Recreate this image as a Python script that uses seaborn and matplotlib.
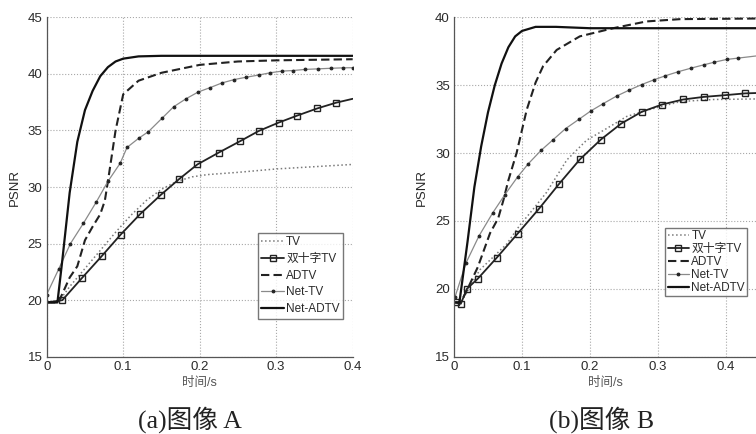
import numpy as np
import pandas as pd
import matplotlib
matplotlib.use("Agg")
import matplotlib.pyplot as plt
import seaborn as sns

# ---- data ----
# (a) image A
a_tv_x = [0, 0.015, 0.03, 0.05, 0.07, 0.09, 0.11, 0.13, 0.15, 0.17, 0.19, 0.21, 0.25, 0.3, 0.35, 0.4]
a_tv_y = [19.8, 19.8, 21.2, 22.8, 24.4, 26.0, 27.5, 28.8, 29.8, 30.5, 30.9, 31.1, 31.3, 31.6, 31.8, 32.0]

a_cross_x = [0, 0.0204, 0.0466, 0.072, 0.0967, 0.122, 0.149, 0.173, 0.197, 0.225, 0.2527, 0.277,
             0.3033, 0.3268, 0.3537, 0.378, 0.4]
a_cross_y = [19.8, 20.0, 22.0, 23.9, 25.8, 27.6, 29.3, 30.7, 32.0, 33.05, 34.05, 34.95,
             35.7, 36.3, 36.95, 37.45, 37.8]

a_adtv_x = [0, 0.015, 0.02, 0.03, 0.04, 0.05, 0.06, 0.07, 0.076, 0.08, 0.09, 0.1, 0.12, 0.15, 0.2, 0.25, 0.3, 0.4]
a_adtv_y = [19.8, 19.8, 20.5, 22.0, 23.0, 25.3, 26.5, 27.6, 28.8, 30.5, 35.0, 38.2, 39.4, 40.1, 40.8, 41.1, 41.2, 41.3]

a_nettv_x = [0, 0.016, 0.031, 0.048, 0.065, 0.08, 0.096, 0.105, 0.12, 0.133, 0.151, 0.166, 0.182, 0.198,
             0.214, 0.229, 0.245, 0.26, 0.277, 0.292, 0.308, 0.322, 0.338, 0.355, 0.372, 0.388, 0.4]
a_nettv_y = [20.5, 22.8, 25.0, 26.8, 28.7, 30.5, 32.1, 33.5, 34.3, 34.9, 36.1, 37.1, 37.8, 38.4,
             38.8, 39.2, 39.5, 39.7, 39.9, 40.1, 40.25, 40.3, 40.4, 40.45, 40.5, 40.54, 40.55]

a_netadtv_x = [0, 0.014, 0.02, 0.03, 0.04, 0.05, 0.06, 0.07, 0.08, 0.09, 0.1, 0.12, 0.15, 0.2, 0.3, 0.4]
a_netadtv_y = [19.8, 19.8, 23.3, 29.5, 34.0, 36.8, 38.5, 39.8, 40.6, 41.1, 41.35, 41.55, 41.6, 41.6, 41.6, 41.6]

# (b) image B
b_tv_x = [0, 0.01, 0.038, 0.0775, 0.097, 0.112, 0.136, 0.166, 0.195, 0.224, 0.254, 0.283, 0.333, 0.382, 0.46]
b_tv_y = [19.0, 19.0, 21.4, 23.3, 24.7, 25.6, 27.1, 29.5, 30.95, 31.8, 32.7, 33.15, 33.8, 33.95, 34.0]

b_cross_x = [0.003, 0.01, 0.019, 0.035, 0.063, 0.0936, 0.125, 0.155, 0.185, 0.216, 0.246, 0.276,
             0.306, 0.337, 0.367, 0.399, 0.428, 0.46]
b_cross_y = [19.0, 18.9, 20.0, 20.75, 22.3, 24.07, 25.9, 27.76, 29.53, 31.0, 32.18, 33.04,
             33.58, 33.95, 34.14, 34.27, 34.4, 34.45]

b_adtv_x = [0, 0.01, 0.02, 0.035, 0.053, 0.065, 0.0725, 0.08, 0.092, 0.107, 0.12, 0.131, 0.151,
            0.185, 0.234, 0.283, 0.333, 0.46]
b_adtv_y = [19.0, 19.0, 20.0, 21.6, 24.1, 25.2, 26.5, 28.0, 30.0, 33.2, 35.2, 36.4, 37.6,
            38.6, 39.2, 39.7, 39.87, 39.92]

b_nettv_x = [0.0015, 0.0176, 0.0368, 0.057, 0.075, 0.0936, 0.109, 0.128, 0.146, 0.164, 0.184, 0.201,
             0.2196, 0.239, 0.258, 0.276, 0.294, 0.311, 0.33, 0.348, 0.367, 0.383, 0.401, 0.418, 0.46]
b_nettv_y = [19.4, 21.9, 23.9, 25.6, 26.95, 28.25, 29.2, 30.2, 31.0, 31.8, 32.5, 33.1,
             33.65, 34.2, 34.65, 35.05, 35.4, 35.7, 36.0, 36.25, 36.5, 36.7, 36.9, 37.0, 37.25]

b_netadtv_x = [0, 0.008, 0.02, 0.03, 0.04, 0.05, 0.06, 0.07, 0.08, 0.09, 0.1, 0.12, 0.15, 0.2, 0.3, 0.46]
b_netadtv_y = [19.0, 19.0, 23.5, 27.5, 30.5, 33.0, 35.0, 36.6, 37.8, 38.6, 39.0, 39.3, 39.3, 39.2, 39.2, 39.2]

labels = ["TV", "双十字TV", "ADTV", "Net-TV", "Net-ADTV"]
captions = ["(a)图像 A", "(b)图像 B"]

# ---- style ----
sns.set_theme(style="white")
plt.rcParams['font.family'] = ['Liberation Sans', 'Noto Sans CJK SC', 'DejaVu Sans']
txt = "#2a2a2a"

fig = plt.figure(figsize=(7.56, 4.34), dpi=100)
ax_a = fig.add_axes([0.0618, 0.178, 0.4047, 0.782])
ax_b = fig.add_axes([0.6005, 0.178, 0.3995, 0.782])


def draw(ax, series, xlim, ylim, cross_every):
    (tvx, tvy), (cx, cy), (adx, ady), (ntx, nty), (nax, nay) = series
    sns.lineplot(x=tvx, y=tvy, ax=ax, estimator=None, sort=False, color="#7a7a7a",
                 linestyle=":", linewidth=1.1, label=labels[0])
    sns.lineplot(x=cx, y=cy, ax=ax, estimator=None, sort=False, color="#222222",
                 linewidth=1.3, marker="s", markersize=5, markerfacecolor="none",
                 markeredgecolor="#222222", markeredgewidth=1.0, markevery=cross_every,
                 label=labels[1])
    sns.lineplot(x=adx, y=ady, ax=ax, estimator=None, sort=False, color="#222222",
                 linestyle=(0, (4, 2)), linewidth=1.5, label=labels[2])
    sns.lineplot(x=ntx, y=nty, ax=ax, estimator=None, sort=False, color="#8a8a8a",
                 linewidth=0.9, marker="o", markersize=2, markerfacecolor="#222222",
                 markeredgecolor="#222222", label=labels[3])
    sns.lineplot(x=nax, y=nay, ax=ax, estimator=None, sort=False, color="#111111",
                 linewidth=1.6, label=labels[4])
    ax.set_xlim(*xlim)
    ax.set_ylim(*ylim)
    ax.set_xticks([0, 0.1, 0.2, 0.3, 0.4])
    ax.set_xticklabels(["0", "0.1", "0.2", "0.3", "0.4"])
    ax.set_yticks(np.arange(ylim[0], ylim[1] + 1, 5))
    ax.grid(True, linestyle=":", color="#a8a8a8", linewidth=0.8)
    for s in ["top", "right"]:
        ax.spines[s].set_visible(False)
    for s in ["left", "bottom"]:
        ax.spines[s].set_color("#555555")
        ax.spines[s].set_linewidth(0.9)
    ax.tick_params(direction="in", length=3, labelsize=9.5, colors=txt, pad=3)
    ax.set_xlabel("时间/s", fontsize=9, color="#555555", labelpad=3)
    ax.set_ylabel("PSNR", fontsize=9.5, color=txt, labelpad=5)


draw(ax_a, [(a_tv_x, a_tv_y), (a_cross_x, a_cross_y), (a_adtv_x, a_adtv_y),
            (a_nettv_x, a_nettv_y), (a_netadtv_x, a_netadtv_y)],
     (0, 0.4), (15, 45), list(range(1, len(a_cross_x) - 1)))
draw(ax_b, [(b_tv_x, b_tv_y), (b_cross_x, b_cross_y), (b_adtv_x, b_adtv_y),
            (b_nettv_x, b_nettv_y), (b_netadtv_x, b_netadtv_y)],
     (0, 0.4441), (15, 40), list(range(0, len(b_cross_x))))

ax_a.legend(loc="upper right", bbox_to_anchor=(0.989, 0.383), fontsize=8.5, frameon=True,
            fancybox=False, edgecolor="#555555", handlelength=1.9, handletextpad=0.2,
            labelspacing=0.4, borderpad=0.3, labelcolor=txt)
ax_b.legend(loc="upper right", bbox_to_anchor=(0.991, 0.398), fontsize=8.5, frameon=True,
            fancybox=False, edgecolor="#555555", handlelength=1.8, handletextpad=0.2,
            labelspacing=0.08, borderpad=0.2, labelcolor=txt)

fig.text(0.251, 1 - 420 / 434, captions[0], ha="center", va="center", fontsize=18.5,
         family=["Liberation Serif", "Noto Sans CJK SC"], color="#222222")
fig.text(0.796, 1 - 420 / 434, captions[1], ha="center", va="center", fontsize=18.5,
         family=["Liberation Serif", "Noto Sans CJK SC"], color="#222222")

fig.savefig("out.png", dpi=100)
